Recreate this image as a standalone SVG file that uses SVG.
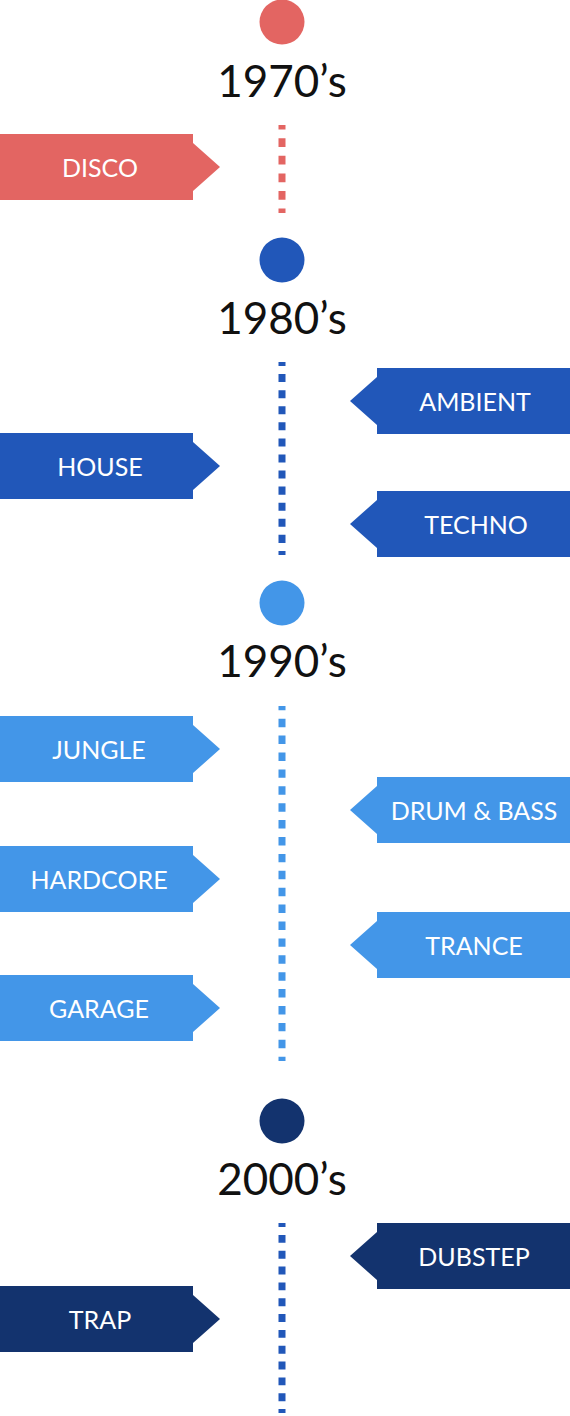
<svg xmlns="http://www.w3.org/2000/svg" xmlns:xlink="http://www.w3.org/1999/xlink" width="570" height="1416" viewBox="0 0 570 1416">
<style>
.yr{font-family:Lato,"Open Sans","Liberation Sans",sans-serif;font-size:44px;fill:#111;text-anchor:middle}
.lb{font-family:Lato,"Open Sans","Liberation Sans",sans-serif;font-size:25px;fill:#fff;text-anchor:middle}
.red{fill:#E36562}.blue{fill:#2157B9}.light{fill:#4396E8}.navy{fill:#13336E}
.dl{stroke-width:7;fill:none}
</style>
<defs>
<polygon id="L" points="0,0 193,0 193,9 220,33 193,57 193,66 0,66"/>
<polygon id="R" points="570,0 377,0 377,9 350,33 377,57 377,66 570,66"/>
</defs>
<g id="connectors">
<line class="dl" x1="282" y1="125" x2="282" y2="213" stroke="#E36562" stroke-dasharray="8.8 8.8" stroke-dashoffset="4.4"/>
<line class="dl" x1="282" y1="362" x2="282" y2="555" stroke="#2157B9" stroke-dasharray="8.04 8.04" stroke-dashoffset="4.02"/>
<line class="dl" x1="282" y1="706" x2="282" y2="1061" stroke="#4396E8" stroke-dasharray="8.45 8.45" stroke-dashoffset="4.2"/>
<line class="dl" x1="282" y1="1223" x2="282" y2="1413" stroke="#2157B9" stroke-dasharray="7.92 7.92" stroke-dashoffset="3.96"/>
</g>
<g id="era1970"><circle cx="282" cy="22" r="22.5" class="red"/><text class="yr" x="282" y="96.5">1970’s</text></g>
<g id="era1980"><circle cx="282" cy="260" r="22.5" class="blue"/><text class="yr" x="282" y="334">1980’s</text></g>
<g id="era1990"><circle cx="282" cy="603" r="22.5" class="light"/><text class="yr" x="282" y="677">1990’s</text></g>
<g id="era2000"><circle cx="282" cy="1121" r="22.5" class="navy"/><text class="yr" x="282" y="1195">2000’s</text></g>
<g id="disco"><use xlink:href="#L" y="134" class="red"/><text class="lb" x="100" y="177">DISCO</text></g>
<g id="ambient"><use xlink:href="#R" y="368" class="blue"/><text class="lb" x="475" y="411">AMBIENT</text></g>
<g id="house"><use xlink:href="#L" y="433" class="blue"/><text class="lb" x="100" y="476">HOUSE</text></g>
<g id="techno"><use xlink:href="#R" y="491" class="blue"/><text class="lb" x="476" y="534">TECHNO</text></g>
<g id="jungle"><use xlink:href="#L" y="716" class="light"/><text class="lb" x="99" y="759">JUNGLE</text></g>
<g id="drumbass"><use xlink:href="#R" y="777" class="light"/><text class="lb" x="474" y="820">DRUM &amp; BASS</text></g>
<g id="hardcore"><use xlink:href="#L" y="846" class="light"/><text class="lb" x="99" y="889">HARDCORE</text></g>
<g id="trance"><use xlink:href="#R" y="912" class="light"/><text class="lb" x="474" y="955">TRANCE</text></g>
<g id="garage"><use xlink:href="#L" y="975" class="light"/><text class="lb" x="99" y="1018">GARAGE</text></g>
<g id="dubstep"><use xlink:href="#R" y="1223" class="navy"/><text class="lb" x="474" y="1266">DUBSTEP</text></g>
<g id="trap"><use xlink:href="#L" y="1286" class="navy"/><text class="lb" x="100" y="1329">TRAP</text></g>
</svg>
